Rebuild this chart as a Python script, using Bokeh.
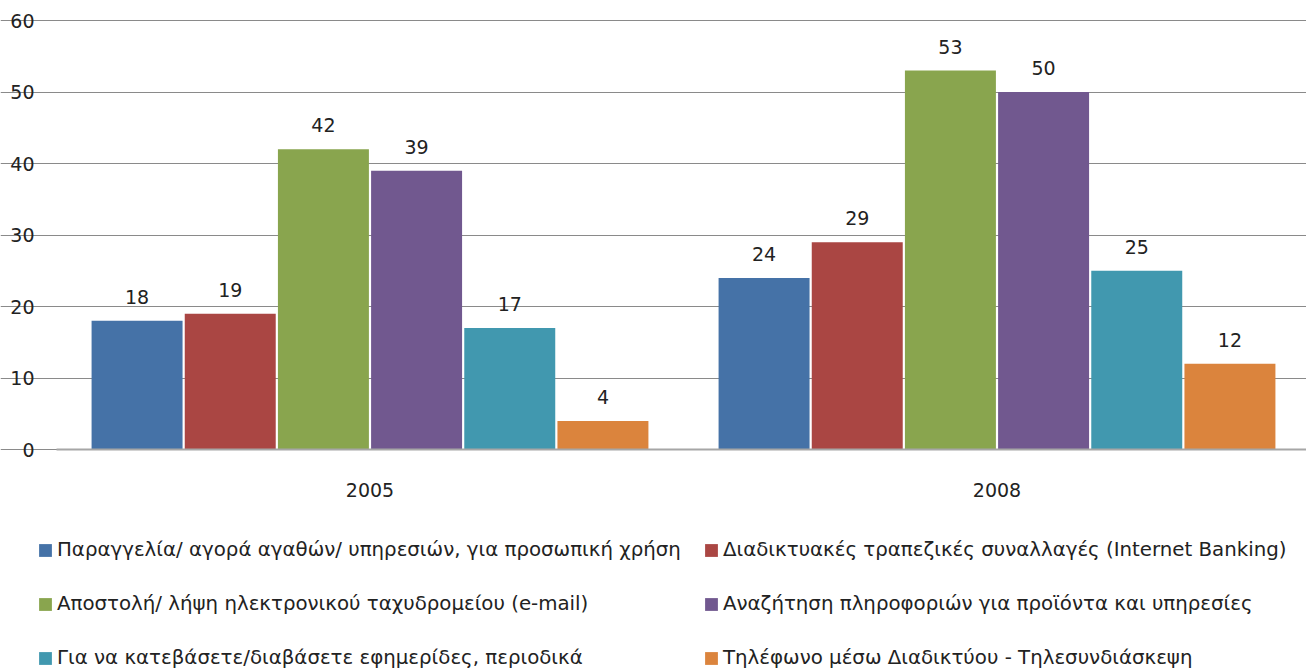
from bokeh.plotting import figure
from bokeh.models import ColumnDataSource, Range1d, Legend, LegendItem, FixedTicker
from bokeh.core.properties import value
from bokeh.embed import file_html
from bokeh.resources import INLINE

years = ["2005", "2008"]
series_names = [
    "Παραγγελία/ αγορά αγαθών/ υπηρεσιών, για προσωπική χρήση",
    "Διαδικτυακές τραπεζικές συναλλαγές (Internet Banking)",
    "Αποστολή/ λήψη ηλεκτρονικού ταχυδρομείου (e-mail)",
    "Αναζήτηση πληροφοριών για προϊόντα και υπηρεσίες",
    "Για να κατεβάσετε/διαβάσετε εφημερίδες, περιοδικά",
    "Τηλέφωνο μέσω Διαδικτύου - Τηλεσυνδιάσκεψη",
]
orders = [18, 24]
banking = [19, 29]
email = [42, 53]
search = [39, 50]
news = [17, 25]
phone = [4, 12]
series_values = [orders, banking, email, search, news, phone]
colors = ["#4572A7", "#AA4643", "#89A54E", "#71588F", "#4198AF", "#DB843D"]
y_ticks = [0, 10, 20, 30, 40, 50, 60]

FONT = "DejaVu Sans"
W, H = 1306, 670

# layout geometry (pixels on the page)
cat_px = 627.0          # width of one year group
x0_px = 369.5           # centre of first group
y0_px, y60_px = 449.0, 20.0
ppu = (y0_px - y60_px) / 60.0

x_start = -x0_px / cat_px
x_end = (W - x0_px) / cat_px
y_end = 60 + y60_px / ppu
y_start = -(H - y0_px) / ppu

p = figure(
    x_range=Range1d(x_start, x_end),
    y_range=Range1d(y_start, y_end),
    width=W, height=H,
    output_backend="svg", toolbar_location=None,
    min_border=0,
)
p.outline_line_color = None
p.background_fill_color = "white"
p.border_fill_color = "white"

idx = list(range(len(years)))
step = 0.1486
bar_w = 0.1451
renderers = []
for k, (name, vals, col) in enumerate(zip(series_names, series_values, colors)):
    off = (k - 2.5) * step
    src = ColumnDataSource(dict(x=[i + off for i in idx], y=vals, lbl=[str(v) for v in vals]))
    r = p.vbar(x="x", top="y", width=bar_w, source=src, fill_color=col, line_color=None)
    p.text(x="x", y="y", text="lbl", source=src,
           text_align="center", text_baseline="alphabetic", y_offset=-24,
           text_font=value(FONT), text_font_size="19px", text_color="#222222")
    renderers.append(r)

# axes drawn at fixed data locations inside the frame
p.yaxis.fixed_location = -0.5
p.yaxis.ticker = FixedTicker(ticks=y_ticks)
p.yaxis.bounds = (0, 60)
p.yaxis.axis_line_color = None
p.yaxis.major_tick_line_color = None
p.yaxis.minor_tick_line_color = None
p.yaxis.major_tick_out = 0
p.yaxis.major_tick_in = 0
p.yaxis.major_label_standoff = 22
p.yaxis.major_label_text_font = FONT
p.yaxis.major_label_text_font_size = "19px"
p.yaxis.major_label_text_color = "#222222"

p.xaxis.fixed_location = 0
p.xaxis.ticker = FixedTicker(ticks=idx)
p.xaxis.major_label_overrides = {i: y for i, y in zip(idx, years)}
p.xaxis.bounds = (-0.5, len(years) - 0.5)
p.xaxis.axis_line_color = "#a6a6a6"
p.xaxis.axis_line_width = 2
p.xaxis.major_tick_line_color = None
p.xaxis.minor_tick_line_color = None
p.xaxis.major_tick_out = 0
p.xaxis.major_tick_in = 0
p.xaxis.major_label_standoff = 33
p.xaxis.major_label_text_font = FONT
p.xaxis.major_label_text_font_size = "19px"
p.xaxis.major_label_text_color = "#222222"

p.xgrid.grid_line_color = None
p.ygrid.grid_line_color = "#8a8a8a"
p.ygrid.grid_line_width = 1
p.ygrid.bounds = (-0.5, len(years) - 0.5)

def make_legend(items_idx, loc):
    lg = Legend(
        items=[LegendItem(label=series_names[k], renderers=[renderers[k]]) for k in items_idx],
        location=loc, orientation="vertical",
        glyph_width=16, glyph_height=16, label_standoff=4, spacing=31,
        padding=0, margin=0, label_height=22,
        label_text_font=FONT, label_text_font_size="19.8px", label_text_color="#222222",
        border_line_color=None, background_fill_alpha=0,
    )
    p.add_layout(lg, "center")

make_legend([0, 2, 4], (37, 1))
make_legend([1, 3, 5], (703, 1))

open("out.html", "w").write(file_html(p, INLINE))
